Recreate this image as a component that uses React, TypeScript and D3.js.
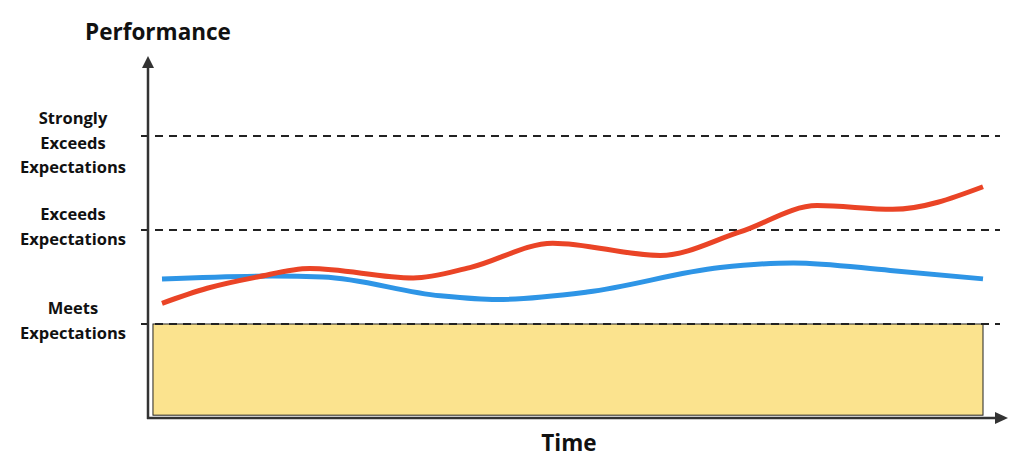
import * as d3 from 'd3'

const WIDTH = 1024
const HEIGHT = 468

// performance levels (value on the y scale) and their labels
const LEVELS = [1, 2, 3]
const LEVEL_LABELS = [
  ['Meets', 'Expectations'],
  ['Exceeds', 'Expectations'],
  ['Strongly', 'Exceeds', 'Expectations'],
]

// time in percent of the run, performance in level units
const RED_T = [0, 5.5, 11.6, 18, 30.6, 37.5, 47.6, 60.7, 70.4, 79.8, 89, 100]
const RED_V = [1.22, 1.38, 1.5, 1.59, 1.49, 1.6, 1.86, 1.73, 1.98, 2.26, 2.22, 2.46]

const BLUE_T = [0, 13.5, 19.6, 33.9, 40.8, 51.8, 68, 76.9, 88.7, 100]
const BLUE_V = [1.48, 1.51, 1.5, 1.3, 1.26, 1.34, 1.6, 1.65, 1.57, 1.48]

const FONT = '"Open Sans", "Noto Sans", sans-serif'
const INK = '#333'

export default function App() {
  const x = d3.scaleLinear().domain([0, 100]).range([162, 983])
  const y = d3.scaleLinear().domain([0, 3]).range([418, 136])

  const axisX = 148
  const axisY = y(0)

  const line = d3
    .line<[number, number]>()
    .x((d) => x(d[0]))
    .y((d) => y(d[1]))
    .curve(d3.curveMonotoneX)

  const red = RED_T.map((t, i) => [t, RED_V[i]] as [number, number])
  const blue = BLUE_T.map((t, i) => [t, BLUE_V[i]] as [number, number])

  const rectLeft = x(-1.1)
  const rectRight = x(100)

  return (
    <svg
      width={WIDTH}
      height={HEIGHT}
      style={{ position: 'absolute', left: 0, top: 0, background: '#fff' }}
      fontFamily={FONT}
    >
      {/* band under "meets" */}
      <rect
        x={rectLeft}
        y={y(1)}
        width={rectRight - rectLeft}
        height={y(0.03) - y(1)}
        fill="#FBE38E"
        stroke="#222"
        strokeWidth={1}
      />

      {/* level lines */}
      {LEVELS.map((v) => (
        <line
          key={v}
          x1={141}
          x2={1000}
          y1={y(v)}
          y2={y(v)}
          stroke="#222"
          strokeWidth={2}
          strokeDasharray="8,6"
        />
      ))}

      {/* axes */}
      <line x1={axisX} x2={axisX} y1={axisY + 1} y2={66} stroke={INK} strokeWidth={2.5} />
      <path d={`M${axisX},56 L${axisX - 6},68 L${axisX + 6},68 Z`} fill={INK} />
      <line x1={axisX - 1} x2={996} y1={axisY} y2={axisY} stroke={INK} strokeWidth={2.5} />
      <path d={`M1008,${axisY} L995,${axisY - 6} L995,${axisY + 6} Z`} fill={INK} />

      {/* series */}
      <path d={line(blue) ?? ''} fill="none" stroke="#2E95E6" strokeWidth={5} />
      <path d={line(red) ?? ''} fill="none" stroke="#EA4426" strokeWidth={5} />

      {/* level labels */}
      {LEVELS.map((v, i) => {
        const rows = LEVEL_LABELS[i]
        const firstY = y(v) - (rows.length === 3 ? 12 : 10)
        return (
          <text key={v} textAnchor="middle" fontSize={16.5} fontWeight={700} fill="#111">
            {rows.map((r, j) => (
              <tspan key={j} x={73} y={firstY + j * 24.5}>
                {r}
              </tspan>
            ))}
          </text>
        )
      })}

      <text x={158} y={40} textAnchor="middle" fontSize={22.5} fontWeight={700} fill="#111">
        Performance
      </text>
      <text x={569} y={451} textAnchor="middle" fontSize={22.5} fontWeight={700} fill="#111">
        Time
      </text>
    </svg>
  )
}
